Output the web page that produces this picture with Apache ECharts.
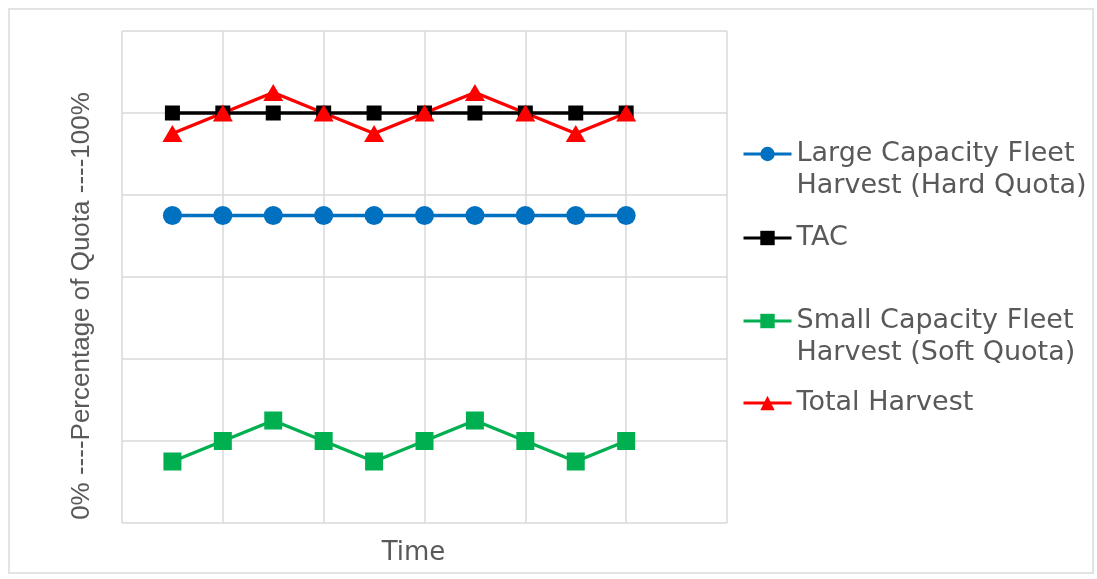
<!DOCTYPE html>
<html>
<head>
<meta charset="utf-8">
<script src="https://cdn.jsdelivr.net/npm/echarts@6/dist/echarts.min.js"></script>
<style>
  html, body { margin: 0; padding: 0; background: #fff; }
  #chart { width: 1097px; height: 579px; }
</style>
</head>
<body>
<div id="chart"></div>
<script>
// Time steps (x positions) and quota percentages per series
const timeSteps = [1, 2, 3, 4, 5, 6, 7, 8, 9, 10];
const largeFleet = [75, 75, 75, 75, 75, 75, 75, 75, 75, 75];
const tac = [100, 100, 100, 100, 100, 100, 100, 100, 100, 100];
const smallFleet = [15, 20, 25, 20, 15, 20, 25, 20, 15, 20];
const totalHarvest = [95, 100, 105, 100, 95, 100, 105, 100, 95, 100];

const seriesNames = [
  'Large Capacity Fleet\nHarvest (Hard Quota)',
  'TAC',
  'Small Capacity Fleet\nHarvest (Soft Quota)',
  'Total Harvest'
];

const FONT = '"DejaVu Sans", "Liberation Sans", sans-serif';
const AXIS_FONT = '"Liberation Sans", Arial, sans-serif';
const TEXT_GRAY = '#595959';
const GRID_GRAY = '#d9d9d9';

function pairs(values) {
  return timeSteps.map((t, i) => [t, values[i]]);
}

// One legend per entry so each can sit at its own height; two-line names get
// a blank leading line so the icon lines up with the first line of text.
function legendAt(name, iconY, twoLines) {
  const lh = 32;
  return {
    data: [name],
    left: 742,
    top: twoLines ? iconY - 1.5 * lh : iconY - lh / 2,
    orient: 'vertical',
    itemWidth: 48,
    itemHeight: 18,
    itemGap: 0,
    padding: 0,
    selectedMode: false,
    formatter: twoLines ? (n) => ' \n' + n : (n) => n,
    lineStyle: { width: 3 },
    textStyle: {
      fontFamily: FONT,
      fontSize: 27,
      color: TEXT_GRAY,
      lineHeight: lh
    }
  };
}

const chart = echarts.init(document.getElementById('chart'), null, { renderer: 'canvas' });

chart.setOption({
  backgroundColor: '#ffffff',
  animation: false,
  graphic: [
    {
      type: 'rect',
      shape: { x: 9, y: 9, width: 1084, height: 564 },
      style: { fill: 'none', stroke: '#e3e3e3', lineWidth: 2 },
      silent: true,
      z: -10
    },
    {
      type: 'text',
      x: 82,
      y: 306,
      rotation: Math.PI / 2,
      style: {
        text: '0% ----Percentage of Quota ----100%',
        fontFamily: AXIS_FONT,
        fontSize: 26,
        fill: TEXT_GRAY,
        align: 'center',
        verticalAlign: 'middle'
      }
    }
  ],
  legend: [
    legendAt(seriesNames[0], 154, true),
    legendAt(seriesNames[1], 238, false),
    legendAt(seriesNames[2], 321, true),
    legendAt(seriesNames[3], 403, false)
  ],
  grid: { left: 122, top: 31, width: 605, height: 492, containLabel: false },
  xAxis: {
    type: 'value',
    min: 0,
    max: 12,
    interval: 2,
    name: 'Time',
    nameLocation: 'middle',
    nameGap: 17,
    nameTextStyle: { fontFamily: FONT, fontSize: 26, color: TEXT_GRAY, padding: [0, 22, 0, 0] },
    axisLine: { show: false },
    axisTick: { show: false },
    axisLabel: { show: false },
    splitLine: { show: true, lineStyle: { color: GRID_GRAY, width: 1.5 } }
  },
  yAxis: {
    type: 'value',
    min: 0,
    max: 120,
    interval: 20,
    axisLine: { show: false },
    axisTick: { show: false },
    axisLabel: { show: false },
    splitLine: { show: true, lineStyle: { color: GRID_GRAY, width: 1.5 } }
  },
  series: [
    {
      name: seriesNames[0],
      type: 'line',
      data: pairs(largeFleet),
      symbol: 'circle',
      symbolSize: 19,
      color: '#0070C0',
      lineStyle: { width: 3.5, color: '#0070C0' },
      itemStyle: { color: '#0070C0' }
    },
    {
      name: seriesNames[1],
      type: 'line',
      data: pairs(tac),
      symbol: 'rect',
      symbolSize: 15,
      color: '#000000',
      lineStyle: { width: 3.5, color: '#000000' },
      itemStyle: { color: '#000000' }
    },
    {
      name: seriesNames[2],
      type: 'line',
      data: pairs(smallFleet),
      symbol: 'rect',
      symbolSize: 18,
      color: '#00B050',
      lineStyle: { width: 3.5, color: '#00B050' },
      itemStyle: { color: '#00B050' }
    },
    {
      name: seriesNames[3],
      type: 'line',
      data: pairs(totalHarvest),
      symbol: 'triangle',
      symbolSize: [20, 17],
      color: '#FF0000',
      lineStyle: { width: 3.5, color: '#FF0000' },
      itemStyle: { color: '#FF0000' }
    }
  ]
});
</script>
</body>
</html>
